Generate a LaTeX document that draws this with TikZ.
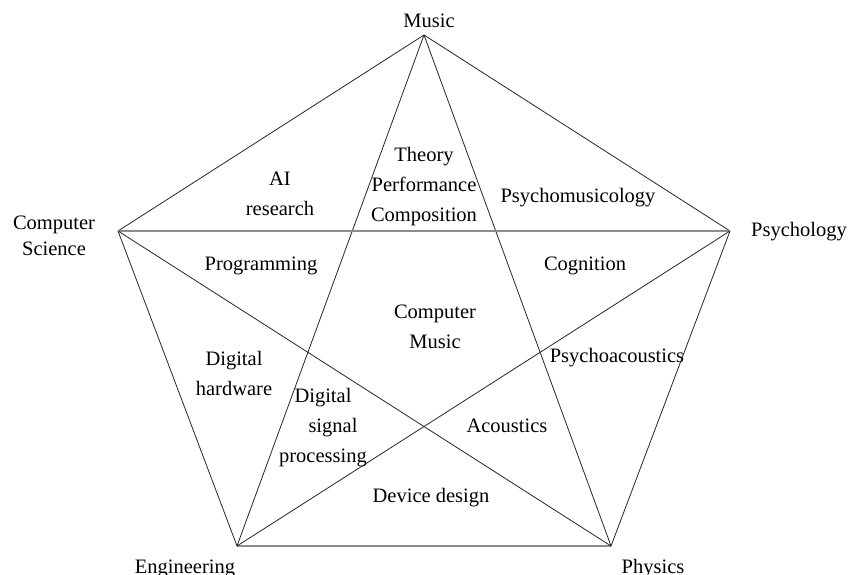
\documentclass[tikz,border=0pt]{standalone}
\usepackage{fontspec}
\setmainfont{Liberation Serif}
\usepackage{tikz}
\usetikzlibrary{positioning}

\tikzset{
	field/.style={inner sep=0pt, font=\fontsize{20.5}{30}\selectfont},
	multi/.style={field, align=center},
	link/.style={line width=0.8pt, black!85},
	flatlink/.style={line width=1.4pt, black!45}
}

\begin{document}
\begin{tikzpicture}[x=1pt, y=-1pt]
	\useasboundingbox (0,0) rectangle (848,575);
	% corners of the pentagon
	\coordinate (1) at (424,35);
	\coordinate (2) at (730,231);
	\coordinate (3) at (611,546);
	\coordinate (4) at (237,546);
	\coordinate (5) at (118,231);
	% disciplines
	\node[field, anchor=base] (mus) at (429,28) {Music};
	\node[field, anchor=base] (psy) at (799,236) {Psychology};
	\node[field, anchor=base] (phy) at (653,573) {Physics};
	\node[field, anchor=base] (eng) at (185,573) {Engineering};
	\node[multi] (cs) at (54,236) {Computer\\[-4pt]Science};
	% fields in between
	\node[multi] (ai) at (280,194) {AI\\research};
	\node[multi] (tpc) at (424,187) {Theory\\Performance\\Composition};
	\node[field, anchor=base] (pmus) at (578,202) {Psychomusicology};
	\node[field, anchor=base] (prog) at (261,270) {Programming};
	\node[field, anchor=base] (cog) at (585,270) {Cognition};
	\node[multi] (cm) at (435,327) {Computer\\Music};
	\node[multi] (dhw) at (234,373) {Digital\\hardware};
	\node[field, anchor=base] (pac) at (617,362) {Psychoacoustics};
	\node[multi] (dsp) at (323,428) {Digital\\\hspace{20pt}signal\\processing};
	\node[field, anchor=base] (ac) at (507,432) {Acoustics};
	\node[field, anchor=base] (dev) at (431,502) {Device design};
	% outline
	\draw[link] (1) -- (2);
	\draw[link] (2) -- (3);
	\draw[flatlink] (3) -- (4);
	\draw[link] (4) -- (5);
	\draw[link] (5) -- (1);
	% star
	\draw[link] (1) -- (4);
	\draw[link] (1) -- (3);
	\draw[flatlink] (5) -- (2);
	\draw[link] (5) -- (3);
	\draw[link] (2) -- (4);
\end{tikzpicture}
\end{document}
